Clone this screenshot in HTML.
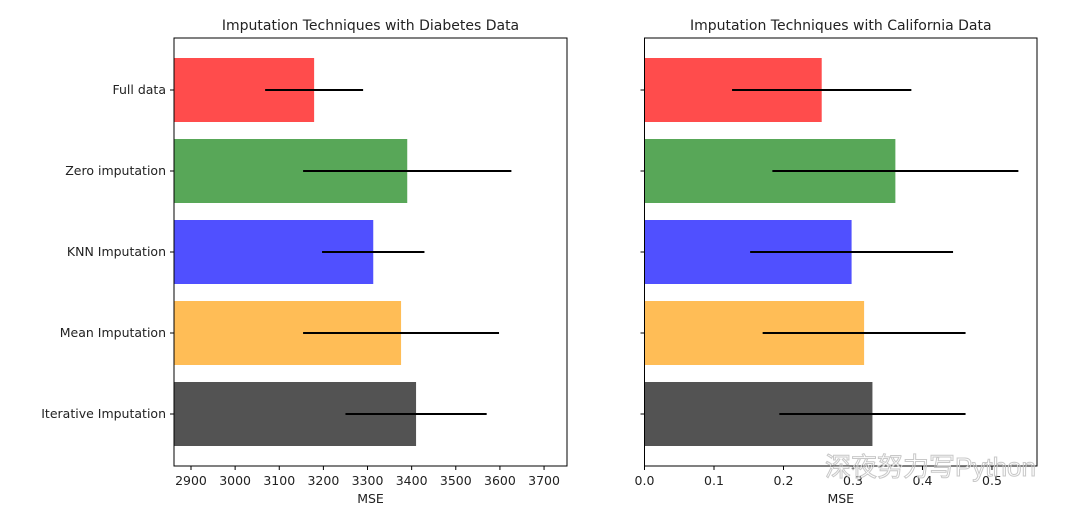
<!DOCTYPE html>
<html><head><meta charset="utf-8"><style>
body{margin:0;background:#fff;font-family:"Liberation Sans","DejaVu Sans",sans-serif}
svg text{font-family:"DejaVu Sans","Liberation Sans",sans-serif;fill:#222}
</style></head><body>
<svg id="c" width="1080" height="517"></svg>
<script>
const categories=["Full data","Zero imputation","KNN Imputation","Mean Imputation","Iterative Imputation"];
const colors=["#ff4c4c","#58a758","#5050ff","#ffbd56","#535353"];
const diabetesMse=[3179,3390,3313,3376,3410];
const diabetesErr=[111,236,116,222,160];
const californiaMse=[0.255,0.361,0.298,0.316,0.328];
const californiaErr=[0.129,0.177,0.146,0.146,0.134];
const diabetesTicks=[2900,3000,3100,3200,3300,3400,3500,3600,3700];
const californiaTicks=[0,0.1,0.2,0.3,0.4,0.5];
const svg=document.getElementById('c');
const NS="http://www.w3.org/2000/svg";
function mk(t,a,txt){const e=document.createElementNS(NS,t);for(const k in a)e.setAttribute(k,a[k]);if(txt!==undefined)e.textContent=txt;svg.appendChild(e);return e;}
function panel(x0,x1,dmin,dmax,vals,errs,ticks,fmt,title,showLabels,key){
  const top=38,bot=466;
  const sx=v=>x0+(v-dmin)/(dmax-dmin)*(x1-x0);
  const yc=i=>90+i*81;
  vals.forEach((v,i)=>{
    const r=mk('rect',{x:x0,y:yc(i)-32,width:sx(v)-x0,height:64,fill:colors[i]});
    
    
    const l=mk('line',{x1:sx(v-errs[i]),x2:sx(v+errs[i]),y1:yc(i),y2:yc(i),stroke:'#000','stroke-width':2});
    
    
    mk('line',{x1:x0-4,x2:x0,y1:yc(i),y2:yc(i),stroke:'#000'});
    if(showLabels){const t=mk('text',{x:x0-8,y:yc(i)+4,'text-anchor':'end','font-size':12.5},categories[i]);
      }
  });
  const f=mk('rect',{x:x0,y:top,width:x1-x0,height:bot-top,fill:'none',stroke:'#000','stroke-width':1});
  
  ticks.forEach(t=>{const x=sx(t);mk('line',{x1:x,x2:x,y1:bot,y2:bot+4,stroke:'#000'});
    const tt=mk('text',{x:x,y:bot+19,'text-anchor':'middle','font-size':12.5},fmt(t));
    });
  const xl=mk('text',{x:(x0+x1)/2,y:503,'text-anchor':'middle','font-size':12.5},'MSE');
  
  const ti=mk('text',{x:(x0+x1)/2,y:30,'text-anchor':'middle','font-size':14},title);
  
}
panel(174,567,2861.5,3752,diabetesMse,diabetesErr,diabetesTicks,t=>String(t),'Imputation Techniques with Diabetes Data',true,'diabetes');
panel(644.5,1037,0,0.5648,californiaMse,californiaErr,californiaTicks,t=>t.toFixed(1),'Imputation Techniques with California Data',false,'california');
const w=mk('text',{x:825,y:476,'font-size':26},'深夜努力写Python');


w.style.fontFamily='"Liberation Sans","Noto Sans CJK SC",sans-serif';
w.style.fill='none';
w.style.stroke='#c8c8c8';
w.style.strokeWidth='1';
</script>
</body></html>
